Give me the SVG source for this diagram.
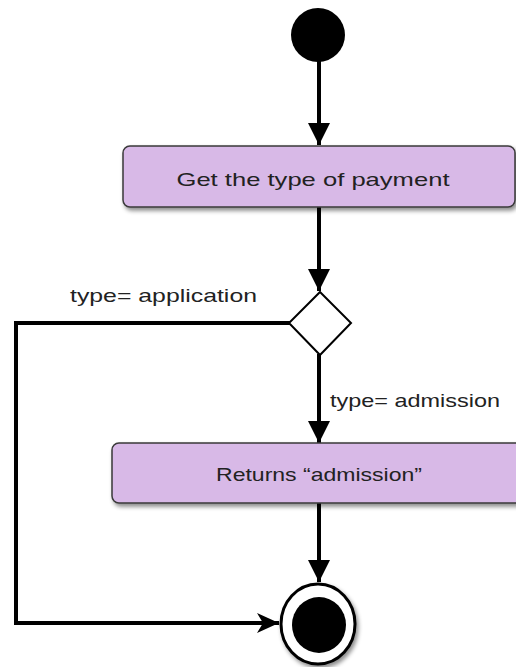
<svg xmlns="http://www.w3.org/2000/svg" width="516" height="667" viewBox="0 0 516 667">
<defs>
<marker id="arr" markerUnits="userSpaceOnUse" markerWidth="24" markerHeight="24" viewBox="0 0 24 24" refX="22" refY="12" orient="auto">
<path d="M0,1 L22,12 L0,23 Z" fill="#000"/>
</marker>
<marker id="arr2" markerUnits="userSpaceOnUse" markerWidth="24" markerHeight="24" viewBox="0 0 24 24" refX="22" refY="12" orient="auto">
<path d="M0,2 L22,12 L0,22 L6,12 Z" fill="#000"/>
</marker>
<filter id="sh" x="-10%" y="-20%" width="130%" height="160%">
<feDropShadow dx="2" dy="3" stdDeviation="2" flood-color="#000" flood-opacity="0.45"/>
</filter>
</defs>
<style>
.act{fill:#d8b9e7;stroke:#3a3a3a;stroke-width:1.5;filter:url(#sh)}
.lbl{font-family:"Liberation Sans",Arial,sans-serif;font-size:19px;fill:#222}
.edge{fill:none;stroke:#000;stroke-width:4}
</style>
<rect width="516" height="667" fill="#fff"/>
<g id="connectors">
<line class="edge" x1="319" y1="60" x2="319" y2="145" marker-end="url(#arr)"/>
<line class="edge" x1="319" y1="207" x2="319" y2="291" marker-end="url(#arr)"/>
<line class="edge" x1="319" y1="354" x2="319" y2="443" marker-end="url(#arr)"/>
<line class="edge" x1="319" y1="503" x2="319" y2="582" marker-end="url(#arr)"/>
<polyline class="edge" points="290,323 16,323 16,623 279,623" marker-end="url(#arr2)"/>
<text class="lbl" x="70" y="302" textLength="187" lengthAdjust="spacingAndGlyphs">type= application</text>
<text class="lbl" x="330" y="407" textLength="170" lengthAdjust="spacingAndGlyphs">type= admission</text>
</g>
<g id="start">
<circle cx="318" cy="35" r="27" fill="#000"/>
</g>
<g id="get-type">
<rect class="act" x="123" y="146" width="392" height="61" rx="7"/>
<text class="lbl" x="313" y="186" text-anchor="middle" textLength="273" lengthAdjust="spacingAndGlyphs">Get the type of payment</text>
</g>
<g id="decision">
<polygon points="320,292 351,323 320,355 289,323" fill="#fff" stroke="#000" stroke-width="2"/>
</g>
<g id="returns-admission">
<rect class="act" x="112" y="443" width="412" height="60" rx="7"/>
<text class="lbl" x="319" y="481" text-anchor="middle" textLength="206" lengthAdjust="spacingAndGlyphs">Returns “admission”</text>
</g>
<g id="end">
<ellipse cx="318" cy="624" rx="37" ry="40" fill="#fff" stroke="#000" stroke-width="3" filter="url(#sh)"/>
<ellipse cx="319" cy="625" rx="27" ry="28" fill="#000"/>
</g>
</svg>
